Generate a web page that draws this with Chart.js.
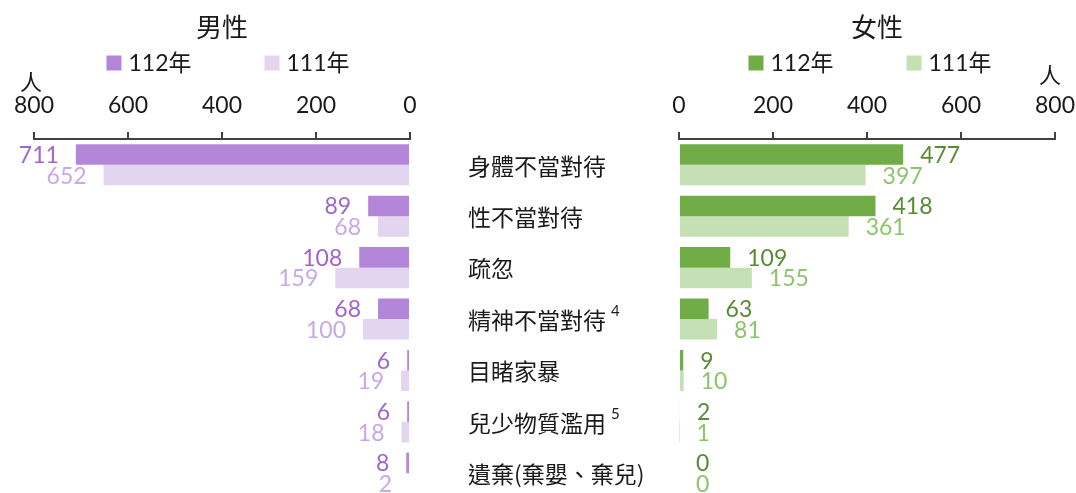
<!DOCTYPE html>
<html>
<head>
<meta charset="utf-8">
<script src="https://cdn.jsdelivr.net/npm/chart.js@4/dist/chart.umd.min.js"></script>
<style>
  html, body { margin: 0; padding: 0; background: #fff; overflow: hidden; width: 1076px; height: 493px; }
  canvas { position: absolute; top: 0; }
  #male { left: 0; }
  #female { left: 440px; }
</style>
</head>
<body>
<canvas id="male" width="444" height="510"></canvas>
<canvas id="female" width="650" height="510"></canvas>
<script>
const categories = ['身體不當對待', '性不當對待', '疏忽', '精神不當對待', '目睹家暴', '兒少物質濫用', '遺棄(棄嬰、棄兒)'];
const categoryNotes = ['', '', '', '4', '', '5', ''];
const seriesLabels = ['112年', '111年'];
const male112 = [711, 89, 108, 68, 6, 6, 8];
const male111 = [652, 68, 159, 100, 19, 18, 2];
const female112 = [477, 418, 109, 63, 9, 2, 0];
const female111 = [397, 361, 155, 81, 10, 1, 0];
const axisMin = 0;
const axisMax = 800;
const axisStep = 200;
const sideTitles = ['男性', '女性'];
const unitLabel = '人';

const CJK = '"Noto Sans CJK TC", "Noto Sans CJK SC", sans-serif';
const NUM = 'Lato, "Noto Sans CJK TC", sans-serif';
const TEXT = '#1a1a1a';
const AXIS = '#404040';

const overlay = {
  id: 'overlay',
  afterDraw(chart, args, o) {
    const ctx = chart.ctx;
    const a = chart.chartArea;
    const cx = (a.left + a.right) / 2;
    ctx.save();
    // title
    ctx.font = '26px ' + CJK;
    ctx.fillStyle = TEXT;
    ctx.textAlign = 'center';
    ctx.textBaseline = 'middle';
    ctx.fillText(o.title, cx + o.titleShift, o.titleY);
    // legend
    ctx.font = '23px ' + NUM;
    const box = 15, gap = 7, spacing = 73;
    const items = chart.data.datasets.map(ds => ({ label: ds.label, color: ds.backgroundColor, w: ctx.measureText(ds.label).width }));
    let total = 0;
    items.forEach((it, i) => { total += box + gap + it.w + (i < items.length - 1 ? spacing : 0); });
    let x = cx + o.legendShift - total / 2;
    ctx.textAlign = 'left';
    items.forEach(it => {
      ctx.fillStyle = it.color;
      ctx.fillRect(x, o.legendY - box / 2, box, box);
      ctx.fillStyle = TEXT;
      ctx.fillText(it.label, x + box + gap, o.legendY + 1);
      x += box + gap + it.w + spacing;
    });
    // unit
    ctx.font = '22px ' + CJK;
    ctx.textAlign = 'center';
    ctx.fillText(unitLabel, (o.side === 'left' ? a.left : a.right) + o.unitDx, o.unitY);
    // value labels
    ctx.font = '23px ' + NUM;
    chart.data.datasets.forEach((ds, di) => {
      const meta = chart.getDatasetMeta(di);
      ctx.fillStyle = o.labelColors[di];
      meta.data.forEach((el, i) => {
        const v = ds.data[i];
        if (o.side === 'left') {
          ctx.textAlign = 'right';
          ctx.fillText(String(v), el.x - 17, el.y + 1);
        } else {
          ctx.textAlign = 'left';
          ctx.fillText(String(v), el.x + 17, el.y + 1);
        }
      });
    });
    // category labels
    if (o.drawCategories) {
      const yScale = chart.scales.y;
      ctx.fillStyle = TEXT;
      ctx.textAlign = 'left';
      categories.forEach((c, i) => {
        const y = yScale.getPixelForValue(i);
        const lx = a.left + o.catDx;
        ctx.font = '23px ' + CJK;
        ctx.fillText(c, lx, y + 1);
        if (categoryNotes[i]) {
          const w = ctx.measureText(c).width;
          ctx.font = '15px ' + NUM;
          ctx.fillText(categoryNotes[i], lx + w + 5, y - 8);
        }
      });
    }
    ctx.restore();
  }
};

function makeChart(id, d112, d111, colors, labelColors, side, extra) {
  return new Chart(document.getElementById(id), {
    type: 'bar',
    data: {
      labels: categories,
      datasets: [
        { label: seriesLabels[0], data: d112, backgroundColor: colors[0], borderWidth: 0 },
        { label: seriesLabels[1], data: d111, backgroundColor: colors[1], borderWidth: 0 }
      ]
    },
    options: {
      indexAxis: 'y',
      responsive: false,
      animation: false,
      devicePixelRatio: 1,
      datasets: { bar: { categoryPercentage: 0.8, barPercentage: 1.0 } },
      layout: { padding: extra.padding },
      scales: {
        x: {
          position: 'top',
          reverse: side === 'left',
          min: axisMin,
          max: axisMax,
          ticks: { stepSize: axisStep, padding: 13, color: TEXT, font: { family: NUM, size: 23 } },
          grid: { drawOnChartArea: false, drawTicks: true, tickLength: 7, color: AXIS, lineWidth: 2 },
          border: { display: true, color: AXIS, width: 2 }
        },
        y: { display: false }
      },
      plugins: {
        legend: { display: false },
        title: { display: false },
        tooltip: { enabled: false },
        overlay: Object.assign({ side, labelColors }, extra.overlay)
      }
    },
    plugins: [overlay]
  });
}

makeChart('male', male112, male111, ['#B486D9', '#E3D5F0'], ['#A066CF', '#C9A8E8'], 'left', {
  padding: { left: 34, right: 34, top: 78.5, bottom: 11 },
  overlay: { title: sideTitles[0], titleShift: 0, titleY: 27, legendShift: 6, legendY: 63, unitDx: -3, unitY: 82, drawCategories: false }
});
makeChart('female', female112, female111, ['#70AD47', '#C5E0B4'], ['#568C34', '#8DC46B'], 'right', {
  padding: { left: 239, right: 35, top: 78.5, bottom: 11 },
  overlay: { title: sideTitles[1], titleShift: 10, titleY: 27, legendShift: 3, legendY: 63, unitDx: -5, unitY: 75, drawCategories: true, catDx: -211 }
});
</script>
</body>
</html>
